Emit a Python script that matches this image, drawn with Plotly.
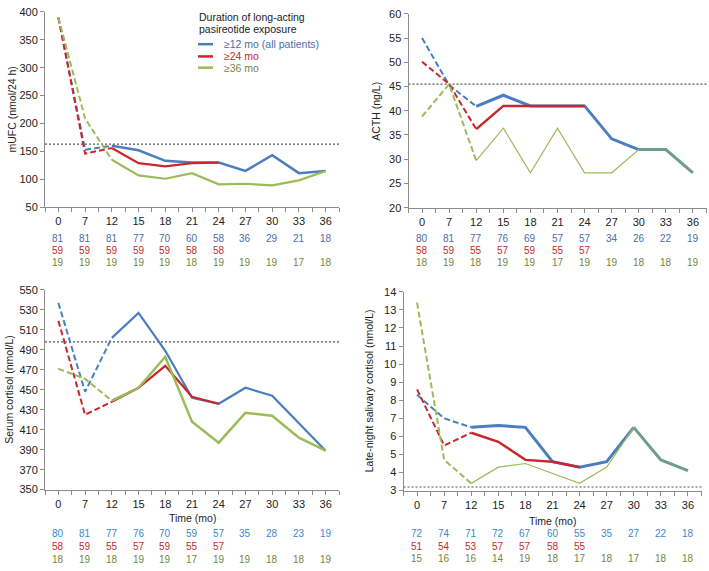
import plotly.graph_objects as go

categories = ["0", "7", "12", "15", "18", "21", "24", "27", "30", "33", "36"]

# mUFC (nmol/24 h)
mufc_12 = [390, 153, 160, 152, 133, 130, 130, 115, 143, 111, 115]
mufc_24 = [390, 146, 156, 129, 123, 129, 130]
mufc_36 = [390, 209, 135, 107, 101, 111, 91, 92, 89, 98, 115]
mufc_uln = 163

# ACTH (ng/L)
acth_12 = [55, 45.3, 40.9, 43.2, 41, 41, 41, 34.2, 32, 32, 27.2]
acth_24 = [50.1, 45.5, 36.2, 41, 41, 41, 41]
acth_36 = [38.8, 45.5, 29.7, 36.4, 27.2, 36.4, 27.2, 27.2, 32, 32, 27.2]
acth_uln = 45.5

# Serum cortisol (nmol/L)
cort_12 = [537, 448, 502, 527, 489, 442, 436, 452, 444, 416, 389]
cort_24 = [519, 425, 438, 452, 474, 443, 436]
cort_36 = [471, 461, 439, 452, 483, 418, 397, 427, 424, 402, 389]
cort_uln = 498

# Late-night salivary cortisol (nmol/L)
lnsc_12 = [8.3, 7.0, 6.5, 6.6, 6.5, 4.6, 4.3, 4.6, 6.5, 4.7, 4.1]
lnsc_24 = [8.6, 5.5, 6.2, 5.7, 4.7, 4.6, 4.3]
lnsc_36 = [13.4, 4.7, 3.4, 4.3, 4.5, 3.95, 3.4, 4.3, 6.5, 4.7, 4.1]
lnsc_uln = 3.2

# Patient counts
n_mufc = [[81, 81, 81, 77, 70, 60, 58, 36, 29, 21, 18],
          [59, 59, 59, 59, 59, 58, 58],
          [19, 19, 19, 19, 19, 18, 19, 19, 19, 17, 18]]
n_acth = [[80, 81, 77, 76, 69, 57, 57, 34, 26, 22, 19],
          [58, 59, 55, 57, 59, 55, 57],
          [18, 19, 18, 19, 19, 17, 19, 19, 18, 18, 19]]
n_cort = [[80, 81, 77, 76, 70, 59, 57, 35, 28, 23, 19],
          [58, 59, 55, 57, 59, 55, 57],
          [18, 19, 18, 19, 19, 17, 19, 19, 18, 18, 19]]
n_lnsc = [[72, 74, 71, 72, 67, 60, 55, 35, 27, 22, 18],
          [51, 54, 53, 57, 57, 58, 55],
          [15, 16, 16, 14, 19, 18, 17, 18, 17, 18, 18]]

legend_title = ["Duration of long-acting", "pasireotide exposure"]
series_names = ["≥12 mo (all patients)", "≥24 mo", "≥36 mo"]

BLUE = "#4a7ebf"
RED = "#c8282d"
GREEN = "#9bbb59"
TEAL = "#6f9c8c"
CNT_COLORS_TOP = ["#4a6ea8", "#c8282d", "#77843f"]
CNT_COLORS_BOT = ["#3b87c9", "#c8282d", "#77843f"]
FONT = "Liberation Sans, Arial, sans-serif"
DASH = "6px,3px"

W, H = 709, 571
xi = list(range(len(categories)))

fig = go.Figure()

panels = [
    dict(ax="", data=[mufc_12, mufc_24, mufc_36], uln=mufc_uln,
         widths=[2.5, 2.2, 2.2], dwidths=[2, 2, 2], teal_from=None,
         xdom=[45 / W, 339 / W], ydom=[(H - 205.5) / H, (H - 6) / H],
         yrange=[50, 400], dtick=50, title="mUFC (nmol/24 h)", tx=12,
         counts=n_mufc, cy=[237, 250, 262], ccol=CNT_COLORS_TOP, time=None),
    dict(ax="2", data=[acth_12, acth_24, acth_36], uln=acth_uln,
         widths=[3, 2.5, 1.2], dwidths=[2, 2, 2], teal_from=8,
         xdom=[408.5 / W, 706.5 / W], ydom=[(H - 206) / H, (H - 8) / H],
         yrange=[20, 60], dtick=5, title="ACTH (ng/L)", tx=376,
         counts=n_acth, cy=[237, 250, 262], ccol=CNT_COLORS_TOP, time=None),
    dict(ax="3", data=[cort_12, cort_24, cort_36], uln=cort_uln,
         widths=[2.2, 2.2, 2.5], dwidths=[2, 2, 2], teal_from=None,
         xdom=[45 / W, 339 / W], ydom=[(H - 494) / H, (H - 290) / H],
         yrange=[350, 550], dtick=20, title="Serum cortisol (nmol/L)", tx=9,
         counts=n_cort, cy=[539, 552, 565], ccol=CNT_COLORS_BOT, time=523),
    dict(ax="4", data=[lnsc_12, lnsc_24, lnsc_36], uln=lnsc_uln,
         widths=[3, 2.5, 1.2], dwidths=[2, 2, 2], teal_from=8,
         xdom=[403.5 / W, 701.5 / W], ydom=[(H - 495) / H, (H - 292) / H],
         yrange=[3, 14], dtick=1, title="Late-night salivary cortisol (nmol/L)", tx=369,
         counts=n_lnsc, cy=[539, 552, 564], ccol=CNT_COLORS_BOT, time=526),
]

colors = [BLUE, RED, GREEN]
annotations = []
shapes = []

for p in panels:
    xa = "x" + p["ax"]
    ya = "y" + p["ax"]
    for s, (vals, col) in enumerate(zip(p["data"], colors)):
        n = len(vals)
        # dashed part (0 -> 7 -> 12)
        fig.add_trace(go.Scatter(x=xi[:3], y=vals[:3], mode="lines", xaxis=xa, yaxis=ya,
                                 line=dict(color=col, width=p["dwidths"][s], dash=DASH),
                                 showlegend=False, hoverinfo="skip"))
        end = n
        if s == 0 and p["teal_from"] is not None:
            end = p["teal_from"] + 1
        fig.add_trace(go.Scatter(x=xi[2:end], y=vals[2:end], mode="lines", xaxis=xa, yaxis=ya,
                                 line=dict(color=col, width=p["widths"][s]),
                                 showlegend=False, hoverinfo="skip"))
    if p["teal_from"] is not None:
        t = p["teal_from"]
        vals = p["data"][0]
        fig.add_trace(go.Scatter(x=xi[t:], y=vals[t:], mode="lines", xaxis=xa, yaxis=ya,
                                 line=dict(color=TEAL, width=p["widths"][0]),
                                 showlegend=False, hoverinfo="skip"))

    shapes.append(dict(type="line", xref=xa + " domain", yref=ya, x0=0, x1=1,
                       y0=p["uln"], y1=p["uln"],
                       line=dict(color="#555555", width=1.2, dash="2px,2px"),
                       layer="below"))

    key_x = "xaxis" + p["ax"]
    key_y = "yaxis" + p["ax"]
    fig.layout[key_x] = dict(domain=p["xdom"], anchor=ya, range=[-0.5, len(categories) - 0.5],
                             tickvals=xi, ticktext=categories, showline=True,
                             linecolor="#8c8c8c", linewidth=1, ticks="outside", ticklen=4,
                             tickcolor="#8c8c8c", showgrid=False, zeroline=False,
                             tickfont=dict(size=11, color="#222222", family=FONT),
                             minor=dict(tickvals=[v - 0.5 for v in xi] + [len(xi) - 0.5],
                                        ticks="outside", ticklen=4, tickcolor="#8c8c8c"),
                             fixedrange=True)
    fig.layout[key_y] = dict(domain=p["ydom"], anchor=xa, range=p["yrange"], dtick=p["dtick"],
                             tick0=p["yrange"][0],
                             showline=True, linecolor="#8c8c8c", linewidth=1, ticks="outside",
                             ticklen=4, tickcolor="#8c8c8c", showgrid=False, zeroline=False,
                             tickfont=dict(size=11, color="#222222", family=FONT),
                             fixedrange=True)

    yc = (p["ydom"][0] + p["ydom"][1]) / 2
    annotations.append(dict(text=p["title"], x=p["tx"] / W, y=yc, xref="paper", yref="paper",
                            textangle=-90, showarrow=False, xanchor="center", yanchor="middle",
                            font=dict(size=10.5, color="#222222", family=FONT)))
    for r, row in enumerate(p["counts"]):
        for i, v in enumerate(row):
            annotations.append(dict(text=str(v), x=xi[i], y=(H - p["cy"][r]) / H, xref=xa,
                                    yref="paper", showarrow=False, xanchor="center",
                                    yanchor="middle",
                                    font=dict(size=10, color=p["ccol"][r], family=FONT)))
    if p["time"] is not None:
        annotations.append(dict(text="Time (mo)", x=0.5, y=(H - p["time"]) / H,
                                xref=xa + " domain", yref="paper", showarrow=False,
                                xanchor="center", yanchor="middle",
                                font=dict(size=10.5, color="#222222", family=FONT)))

# Legend
for k, line in enumerate(legend_title):
    annotations.append(dict(text=line, x=197 / W, y=(H - (11.5 + 12 * k)) / H, xref="paper",
                            yref="paper", showarrow=False, xanchor="left", yanchor="middle",
                            font=dict(size=10.5, color="#222222", family=FONT)))
leg_y = [39, 51.5, 63]
leg_txt_col = ["#4a6ea8", "#c8282d", "#77843f"]
for k, name in enumerate(series_names):
    shapes.append(dict(type="line", xref="paper", yref="paper", x0=198 / W, x1=213 / W,
                       y0=(H - leg_y[k]) / H, y1=(H - leg_y[k]) / H,
                       line=dict(color=colors[k], width=2.5)))
    annotations.append(dict(text=name, x=222 / W, y=(H - leg_y[k]) / H, xref="paper",
                            yref="paper", showarrow=False, xanchor="left", yanchor="middle",
                            font=dict(size=10.5, color=leg_txt_col[k], family=FONT)))

fig.update_layout(width=W, height=H, margin=dict(l=0, r=0, t=0, b=0),
                  paper_bgcolor="white", plot_bgcolor="white",
                  annotations=annotations, shapes=shapes, showlegend=False,
                  font=dict(family=FONT))

fig.write_html("out.html", config={"displayModeBar": False},
               post_script="document.body.style.margin='0';document.body.style.padding='0';"
                           "document.body.style.overflow='hidden';")
